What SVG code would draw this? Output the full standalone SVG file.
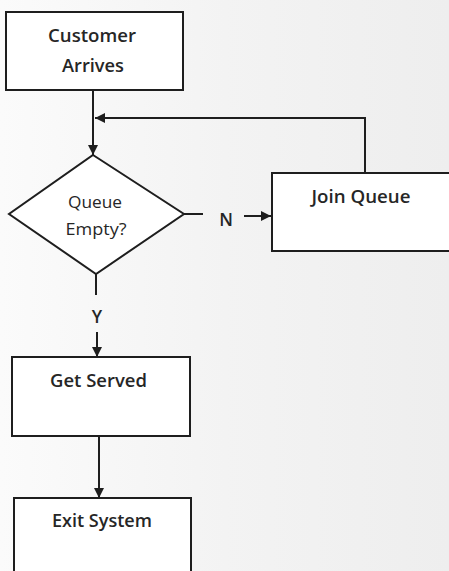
<svg xmlns="http://www.w3.org/2000/svg" width="449" height="571" viewBox="0 0 449 571">
<defs>
<linearGradient id="bg" x1="0" y1="0" x2="1" y2="0">
<stop offset="0" stop-color="#fbfbfb"/>
<stop offset="0.5" stop-color="#f3f3f3"/>
<stop offset="1" stop-color="#eeeeee"/>
</linearGradient>
<marker id="ah" viewBox="0 0 10 10" refX="10" refY="5" markerWidth="10" markerHeight="10" markerUnits="userSpaceOnUse" orient="auto">
<path d="M0,0 L10,5 L0,10 z" fill="#1e1e1e"/>
</marker>
</defs>
<style>
.box{fill:#ffffff;stroke:#1e1e1e;stroke-width:2}
.ln{fill:none;stroke:#1e1e1e;stroke-width:2}
.t{font-family:"Open Sans","Liberation Sans",sans-serif;font-size:17.5px;font-weight:600;fill:#262626;text-anchor:middle}
.s{font-size:16px;font-weight:500}
</style>
<rect x="0" y="0" width="449" height="571" fill="url(#bg)"/>
<g id="connectors">
<line class="ln" x1="93" y1="90" x2="93" y2="155" marker-end="url(#ah)"/>
<polyline class="ln" points="365,173 365,118 95,118" marker-end="url(#ah)"/>
<line class="ln" x1="184" y1="214" x2="203" y2="214"/>
<line class="ln" x1="244" y1="216" x2="271" y2="216" marker-end="url(#ah)"/>
<line class="ln" x1="96" y1="274" x2="96" y2="295"/>
<line class="ln" x1="97" y1="332" x2="97" y2="357" marker-end="url(#ah)"/>
<line class="ln" x1="99" y1="436" x2="99" y2="498" marker-end="url(#ah)"/>
<text class="t" x="226" y="226" font-size="17">N</text>
<text class="t" x="97" y="323" font-size="16">Y</text>
</g>
<g id="customer-arrives">
<rect class="box" x="6" y="12" width="177" height="78"/>
<text class="t" x="92" y="42" textLength="88" lengthAdjust="spacingAndGlyphs">Customer</text>
<text class="t" x="93" y="72" textLength="62" lengthAdjust="spacingAndGlyphs">Arrives</text>
</g>
<g id="queue-empty">
<polygon class="box" points="93,155 184,214 96,274 9,214"/>
<text class="t s" x="95" y="208" textLength="54" lengthAdjust="spacingAndGlyphs">Queue</text>
<text class="t s" x="96" y="235" textLength="61" lengthAdjust="spacingAndGlyphs">Empty?</text>
</g>
<g id="join-queue">
<rect class="box" x="272" y="173" width="190" height="78"/>
<text class="t" x="361" y="203" textLength="99" lengthAdjust="spacingAndGlyphs">Join Queue</text>
</g>
<g id="get-served">
<rect class="box" x="12" y="357" width="178" height="79"/>
<text class="t" x="98.5" y="387" textLength="97" lengthAdjust="spacingAndGlyphs">Get Served</text>
</g>
<g id="exit-system">
<rect class="box" x="14" y="498" width="177" height="90"/>
<text class="t" x="102" y="527" textLength="100" lengthAdjust="spacingAndGlyphs">Exit System</text>
</g>
</svg>
